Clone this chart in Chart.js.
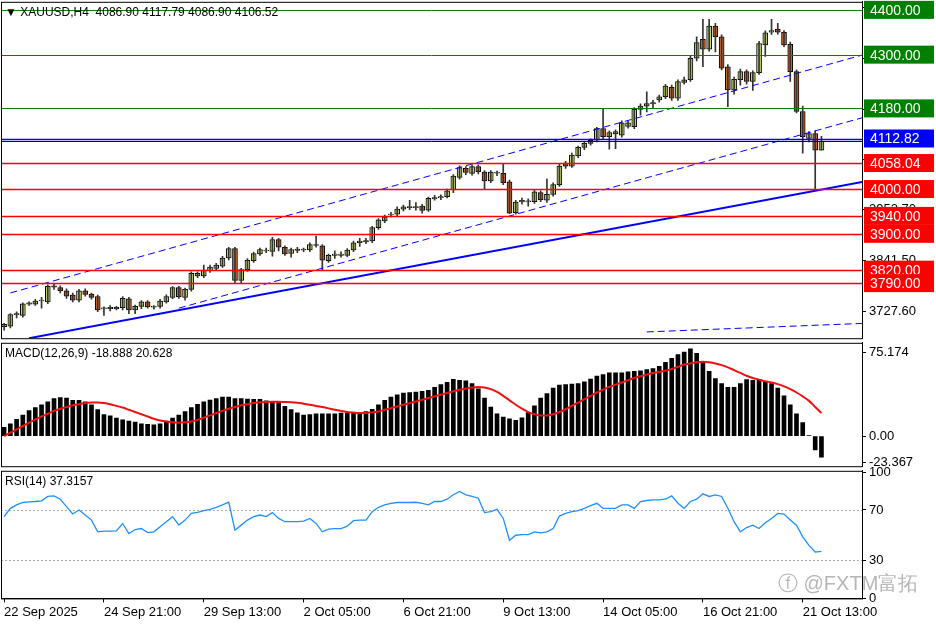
<!DOCTYPE html>
<html>
<head>
<meta charset="utf-8">
<script src="https://cdn.jsdelivr.net/npm/chart.js@4.4.0/dist/chart.umd.min.js"></script>
<style>
  body { margin: 0; background: #fff; }
  #wrap { position: relative; width: 936px; height: 624px; overflow: hidden; }
  canvas { position: absolute; left: 0; }
</style>
</head>
<body>
<div id="wrap">
  <canvas id="priceChart" width="936" height="358" style="top:-9px"></canvas>
  <canvas id="macdChart" width="936" height="145" style="top:332px"></canvas>
  <canvas id="rsiChart" width="936" height="162" style="top:460px"></canvas>
</div>
<script>
// XAUUSD H4 candles
var openPrices = [3693,3694,3720,3718,3744,3743,3750,3748,3783,3780,3773,3763,3752,3773,3765,3760,3733,3734,3735,3735,
  3755,3730,3738,3748,3737,3738,3748,3758,3780,3758,3776,3806,3806,3818,3823,3828,3846,3867,3796,3820,
  3840,3855,3862,3861,3887,3870,3856,3865,3864,3864,3876,3873,3840,3852,3852,3852,3864,3880,3884,3884,
  3914,3929,3942,3944,3955,3960,3959,3962,3953,3979,3980,3983,3998,4026,4046,4035,4050,4038,4018,4036,
  4035,4016,3947,3971,3972,3972,3992,3975,3988,4010,4058,4051,4074,4093,4102,4109,4135,4117,4123,4120,
  4140,4139,4178,4185,4191,4199,4206,4227,4203,4238,4244,4292,4334,4312,4364,4340,4273,4221,4244,4262,
  4240,4260,4322,4350,4357,4350,4323,4262,4173,4113,4124,4086.9];
var highPrices = [3700,3722,3726,3746,3748,3754,3758,3786,3788,3784,3777,3768,3776,3777,3768,3763,3737,3740,3738,3760,
  3758,3741,3751,3751,3740,3754,3764,3782,3783,3779,3815,3815,3830,3830,3834,3850,3870,3870,3823,3845,
  3859,3868,3868,3892,3890,3873,3868,3870,3868,3880,3895,3876,3855,3862,3860,3867,3884,3890,3890,3917,
  3934,3942,3948,3960,3964,3975,3970,3966,3982,3986,3987,4000,4032,4052,4050,4054,4054,4041,4041,4040,
  4056,4020,3975,3980,3978,3998,3996,4022,4014,4055,4062,4080,4096,4106,4112,4138,4178,4130,4132,4152,
  4152,4182,4190,4217,4198,4210,4234,4232,4244,4250,4296,4340,4379,4379,4370,4344,4278,4250,4268,4266,
  4264,4330,4353,4379,4370,4354,4328,4266,4185,4128,4130,4117.79];
var lowPrices = [3685,3690,3712,3714,3740,3740,3734,3744,3776,3768,3756,3748,3748,3761,3754,3726,3718,3728,3730,3730,
  3722,3722,3733,3734,3732,3734,3745,3755,3756,3752,3772,3802,3802,3814,3820,3825,3842,3791,3791,3816,
  3836,3852,3858,3850,3862,3852,3848,3858,3860,3860,3870,3819,3836,3845,3848,3849,3860,3872,3878,3880,
  3910,3925,3938,3940,3951,3954,3953,3946,3950,3975,3976,3980,3992,4022,4032,4031,4034,4000,4014,4030,
  4010,3945,3944,3966,3962,3968,3972,3970,3984,4006,4046,4048,4070,4088,4098,4105,4110,4089,4090,4116,
  4136,4135,4165,4172,4180,4194,4202,4198,4198,4234,4240,4286,4273,4308,4306,4266,4184,4212,4232,4234,
  4220,4256,4296,4345,4346,4318,4240,4170,4080,4105,4000,4086.9];
var closePrices = [3698,3720,3721,3744,3745,3750,3752,3783,3782,3773,3761,3752,3773,3765,3758,3730,3734,3735,3734,3756,
  3730,3738,3748,3737,3738,3750,3760,3780,3759,3776,3812,3812,3819,3826,3830,3846,3867,3796,3820,3841,
  3856,3865,3864,3887,3870,3855,3865,3864,3866,3876,3874,3841,3852,3855,3855,3864,3880,3884,3883,3914,
  3931,3938,3944,3955,3960,3959,3960,3952,3979,3980,3983,3996,4029,4048,4037,4050,4039,4018,4038,4037,
  4014,3946,3971,3975,3973,3994,3976,3988,4010,4051,4051,4076,4093,4102,4109,4135,4117,4126,4128,4148,
  4148,4178,4185,4191,4192,4206,4230,4203,4240,4244,4292,4327,4312,4364,4340,4270,4221,4245,4262,4240,
  4260,4325,4349,4354,4350,4322,4262,4173,4117,4124,4086.9,4106.52];

var macdHist = [7.8,11,15,18.7,22.7,25.6,27.9,30.7,33.6,34.5, 34,32,32,30.7,28,23.6,19.3,18,16,14.5,
  13.5,12.5,11,10.5,10,11,13.5,16,18.7,22, 25.6,28.5,30.7,32.2,33.6,34.8,35,33.6,33.6,33,
  32.8,32.8,31.5,30.7,30,26.5,23.6,20.7,18.7,19.3, 19.8,19.8,19.8,20,20.5,20.5,20.5,21,22,24,
  28,32,35,37,38.4,39,39.4,40,41,43.7, 46,48,50.9,50,49.4,47,42.2,34,26,20,
  17,15.5,14,16.4,21,27,34,38,43,45.7, 46,46.5,47,48.5,51,53.7,55,56.6,56.6,56.6,
  57.5,58,58.5,59.5,60.5,62.4,66,69.6,73,75.3, 78.2,74,66,58,51.4,47,43.7,43.7,47,50.5,
  50,50.5,49,47,43,36,28,20,12.1,0.5,-12.4,-18.9];
var macdSignal = [0,3,6,9,12,15,17.5,20,22.5,24.5, 26,27.5,28.5,29.5,30,30,29.5,28.5,27,25.5,
  23.5,21.5,19.5,17.5,15.5,14,13,12.3,12,12.3, 13,14.5,16.5,18.5,20.5,22.5,24.5,26,27.5,28.5,
  29.5,30.2,30.5,30.7,30.7,30.5,30.3,29.8,29,28, 27,26,24.8,23.5,22.5,21.5,21,20.6,20.7,21.2,
  22,23.5,25,26.5,28,29.5,31,32.5,34,35.5, 37,38.5,40,41.5,42.5,43.5,44,43.5,42,39.5,
  36,32,28,24.5,21.5,19.5,18.5,18.5,19.5,21.5, 24,27,30,33,36,39,41.5,44,46,48,
  50,52,53.5,55,56.5,57.5,58.5,60,62,64, 65,66,66.5,66,65,63.5,61.5,59,56.5,54,
  52,50.5,49,48,46.5,44.5,42,39,35.5,31.5,26,20.6];
var rsiValues = [64.7,71.3,74,75.9,76.4,76.7,77.2,80.7,81.2,78.5, 72.7,66.8,70,66,62,52.7,53.2,53.2,53.5,59.3,
  51.3,54.5,55.3,52.1,52.7,56.7,60.7,64.7,58,62, 67.3,68.1,69.5,70.5,72.1,74,76.1,54,58,62,
  64.7,66,64.7,67.9,63.3,60.7,60.7,60.7,61.2,63.3, 59.3,52.7,54.8,55.3,55.3,57.2,61.5,62,62,68.7,
  72.1,74,75.3,75.9,75.9,75.9,76.1,75.3,74,76.7, 76.7,78.5,82,84.7,82,80.7,79.3,67.9,68.7,70.5,
  63.3,46,50,50.5,50.5,52.7,51.9,52.7,55.3,65.2, 67.3,68.7,69.5,71.3,73.5,75.3,71.3,71.3,71.3,74,
  74,71.3,76.7,77.5,78,78,78.5,81.2,75.3,71.3, 76.7,78.5,82.8,80.7,82,80.7,71.3,60.7,52.7,56.1,
  58,55.3,59.9,63.3,67.3,66.8,62,58,48.7,42,36.7,37.3];

var dateTickIndex = [0,16,32,48,64,80,96,112,128];
var dateTickLabels = ["22 Sep 2025","24 Sep 21:00","29 Sep 13:00","2 Oct 05:00","6 Oct 21:00","9 Oct 13:00","14 Oct 05:00","16 Oct 21:00","21 Oct 13:00"];
var priceTicks = [4404.80, 4291.50, 4178.20, 4065.00, 3953.70, 3841.50, 3727.60];

var greenLevels = [4400, 4300, 4180];
var redLevels = [4058.04, 4000, 3940, 3900, 3820, 3790];
var bidLevel = 4112.82;
var askLevel = 4108.30;

// trend lines: [startIndex, startPrice, endIndex, endPrice]
var solidTrend = [4, 3667, 137.5, 4016];
var dashedTrends = [[1, 3768, 137.5, 4299], [28, 3734, 137.5, 4159], [103, 3681, 137.5, 3700]];

var FONT = 'Liberation Sans';
var X_MIN = -0.5, X_MAX = 137.5;
var bullColor = '#c9d86c', bearColor = '#d4692c';

function fitRight(scale) { scale.width = 74; }

var wickData = [], bodyData = [], bodyColors = [];
for (var i = 0; i < closePrices.length; i++) {
    wickData.push({x: i, y: [lowPrices[i], highPrices[i]]});
    var lo = Math.min(openPrices[i], closePrices[i]);
    var hi = Math.max(openPrices[i], closePrices[i]);
    if (hi - lo < 1.5) { lo -= 0.8; hi += 0.8; }
    bodyData.push({x: i, y: [lo, hi]});
    bodyColors.push(closePrices[i] >= openPrices[i] ? bullColor : bearColor);
}

function trendData(t) { return [{x: t[0], y: t[1]}, {x: t[2], y: t[3]}]; }

var framePlugin = {
    id: 'frame',
    afterDraw: function(chart) {
        var c = chart.ctx, a = chart.chartArea;
        c.save();
        c.strokeStyle = '#000';
        c.lineWidth = 1;
        c.strokeRect(a.left + 0.5, a.top + 0.5, a.right - a.left, a.bottom - a.top);
        c.restore();
    }
};

var levelPlugin = {
    id: 'levels',
    afterDatasetsDraw: function(chart) {
        var c = chart.ctx, a = chart.chartArea, y = chart.scales.y;
        c.save();
        function hline(v, color, w) {
            var py = Math.round(y.getPixelForValue(v)) + 0.5;
            c.strokeStyle = color; c.lineWidth = w;
            c.beginPath(); c.moveTo(a.left, py); c.lineTo(a.right, py); c.stroke();
        }
        greenLevels.forEach(function(v) { hline(v, '#008000', 1); });
        redLevels.forEach(function(v) { hline(v, '#ff0000', 1.3); });
        hline(bidLevel, '#0000ff', 1.3);
        hline(askLevel, '#000080', 1);
        c.restore();
    },
    afterDraw: function(chart) {
        var c = chart.ctx, a = chart.chartArea, y = chart.scales.y;
        c.save();
        c.font = '14px ' + FONT;
        c.textBaseline = 'middle';
        function box(v, color) {
            var py = y.getPixelForValue(v);
            c.fillStyle = color;
            c.fillRect(a.right + 2, py - 9, 70, 18);
            c.fillStyle = '#fff';
            c.fillText(v.toFixed(2), a.right + 8, py + 1);
        }
        greenLevels.forEach(function(v) { box(v, '#007f00'); });
        redLevels.forEach(function(v) { box(v, '#ff0000'); });
        box(bidLevel, '#0000ff');
        c.fillStyle = '#000';
        c.font = '12px ' + FONT;
        c.fillText('\u25BC XAUUSD,H4  4086.90 4117.79 4086.90 4106.52', a.left + 4, a.top + 11);
        c.restore();
    }
};

new Chart(document.getElementById('priceChart'), {
    type: 'bar',
    data: {
        datasets: [
            {type: 'line', data: trendData(solidTrend), borderColor: '#0000ff', borderWidth: 2, pointRadius: 0},
            {type: 'line', data: trendData(dashedTrends[0]), borderColor: '#0000ff', borderWidth: 1, borderDash: [7, 4], pointRadius: 0},
            {type: 'line', data: trendData(dashedTrends[1]), borderColor: '#0000ff', borderWidth: 1, borderDash: [7, 4], pointRadius: 0},
            {type: 'line', data: trendData(dashedTrends[2]), borderColor: '#0000ff', borderWidth: 1, borderDash: [7, 4], pointRadius: 0},
            {data: wickData, backgroundColor: '#333', barThickness: 1, grouped: false},
            {data: bodyData, backgroundColor: bodyColors, borderColor: '#000', borderWidth: 1, borderSkipped: false, barThickness: 5, grouped: false}
        ]
    },
    options: {
        responsive: false,
        animation: false,
        layout: {padding: {top: 2, bottom: 2, left: 1}},
        plugins: {legend: {display: false}, tooltip: {enabled: false}},
        scales: {
            x: {type: 'linear', min: X_MIN, max: X_MAX, offset: false, display: false},
            y: {
                position: 'right', min: 3667, max: 4418,
                afterFit: fitRight,
                afterBuildTicks: function(s) { s.ticks = priceTicks.map(function(v) { return {value: v}; }); },
                grid: {drawOnChartArea: false, tickLength: 4, color: '#000'},
                border: {color: '#000'},
                ticks: {color: '#000', font: {family: FONT, size: 13}, padding: 3,
                    callback: function(v) { return v.toFixed(2); }}
            }
        }
    },
    plugins: [levelPlugin, framePlugin]
});

var macdLabels = {
    id: 'macdLabel',
    afterDraw: function(chart) {
        var c = chart.ctx, a = chart.chartArea;
        c.save();
        c.fillStyle = '#000';
        c.font = '12px ' + FONT;
        c.textBaseline = 'middle';
        c.fillText('MACD(12,26,9) -18.888 20.628', a.left + 4, a.top + 11);
        c.restore();
    }
};

new Chart(document.getElementById('macdChart'), {
    type: 'bar',
    data: {
        datasets: [
            {type: 'line', data: macdSignal.map(function(v, i) { return {x: i, y: v}; }), borderColor: '#ee1111', borderWidth: 2, pointRadius: 0, tension: 0.3},
            {data: macdHist.map(function(v, i) { return {x: i, y: v}; }), backgroundColor: '#000', barThickness: 4}
        ]
    },
    options: {
        responsive: false,
        animation: false,
        layout: {padding: {top: 2, bottom: 2, left: 1}},
        plugins: {legend: {display: false}, tooltip: {enabled: false}},
        scales: {
            x: {type: 'linear', min: X_MIN, max: X_MAX, offset: false, display: false},
            y: {
                position: 'right', min: -27, max: 83.5,
                afterFit: fitRight,
                afterBuildTicks: function(s) { s.ticks = [75.174, 0, -23.367].map(function(v) { return {value: v}; }); },
                grid: {drawOnChartArea: false, tickLength: 4, color: '#000'},
                border: {color: '#000'},
                ticks: {color: '#000', font: {family: FONT, size: 13}, padding: 3,
                    callback: function(v) { return v === 0 ? '0.00' : String(v); }}
            }
        }
    },
    plugins: [macdLabels, framePlugin]
});

var rsiPlugin = {
    id: 'rsiExtras',
    beforeDatasetsDraw: function(chart) {
        var c = chart.ctx, a = chart.chartArea, y = chart.scales.y;
        c.save();
        c.strokeStyle = '#aaa';
        c.setLineDash([2, 2]);
        [70, 30].forEach(function(v) {
            var py = Math.round(y.getPixelForValue(v)) + 0.5;
            c.beginPath(); c.moveTo(a.left, py); c.lineTo(a.right, py); c.stroke();
        });
        c.restore();
    },
    afterDraw: function(chart) {
        var c = chart.ctx, a = chart.chartArea;
        c.save();
        c.fillStyle = '#000';
        c.font = '12px ' + FONT;
        c.textBaseline = 'middle';
        c.fillText('RSI(14) 37.3157', a.left + 4, a.top + 11);
        c.fillStyle = 'rgba(120,120,120,0.55)';
        c.font = '20px ' + FONT;
        c.fillText('\u24D5 @FXTM富拓', 778, a.bottom - 14);
        c.restore();
    }
};

new Chart(document.getElementById('rsiChart'), {
    type: 'line',
    data: {
        datasets: [
            {data: rsiValues.map(function(v, i) { return {x: i, y: v}; }), borderColor: '#1e90ff', borderWidth: 1.3, pointRadius: 0}
        ]
    },
    options: {
        responsive: false,
        animation: false,
        layout: {padding: {top: 2, left: 1}},
        plugins: {legend: {display: false}, tooltip: {enabled: false}},
        scales: {
            x: {
                type: 'linear', min: X_MIN, max: X_MAX, offset: false,
                afterBuildTicks: function(s) { s.ticks = dateTickIndex.map(function(v) { return {value: v}; }); },
                grid: {drawOnChartArea: false, tickLength: 4, color: '#000'},
                border: {color: '#000'},
                ticks: {color: '#000', font: {family: FONT, size: 13}, align: 'start', maxRotation: 0, autoSkip: false, padding: 2,
                    callback: function(v) { return dateTickLabels[dateTickIndex.indexOf(v)]; }}
            },
            y: {
                position: 'right', min: 0, max: 101,
                afterFit: fitRight,
                afterBuildTicks: function(s) { s.ticks = [100, 70, 30, 0].map(function(v) { return {value: v}; }); },
                grid: {drawOnChartArea: false, tickLength: 4, color: '#000'},
                border: {color: '#000'},
                ticks: {color: '#000', font: {family: FONT, size: 13}, padding: 3}
            }
        }
    },
    plugins: [rsiPlugin, framePlugin]
});
</script>
</body>
</html>
